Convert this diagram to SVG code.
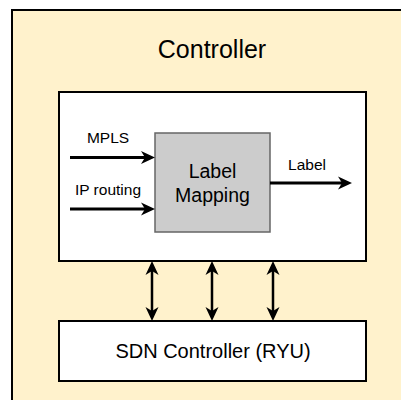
<svg xmlns="http://www.w3.org/2000/svg" width="401" height="400" viewBox="0 0 401 400">
  <defs>
    <!-- arrowhead pointing along +x with its tip at the origin -->
    <path id="arrowhead" d="M0,0 L-14,-6.5 L-10,0 L-14,6.5 Z" fill="#000"/>
    <style>
      text { font-family: "Liberation Sans", Arial, sans-serif; fill: #000; }
      .box { fill: #fff; stroke: #000; stroke-width: 2; }
      .flow { fill: none; stroke: #000; stroke-width: 3; }
      .link { fill: none; stroke: #000; stroke-width: 2.5; }
      .tag { font-size: 15.5px; }
    </style>
  </defs>
  <rect width="401" height="400" fill="#fff"/>

  <g id="controller">
    <rect x="12" y="10" width="400" height="400" fill="#fff2cc" stroke="#000" stroke-width="2"/>
    <text x="212" y="58" font-size="25" text-anchor="middle">Controller</text>
  </g>

  <g id="app-layer">
    <rect class="box" x="59" y="92" width="307" height="169"/>
  </g>

  <g id="label-mapping">
    <rect x="155" y="133" width="115" height="99" fill="#ccc" stroke="#666" stroke-width="1.5"/>
    <text x="212.5" y="178" font-size="19.5" text-anchor="middle">Label</text>
    <text x="212.5" y="202" font-size="19.5" text-anchor="middle">Mapping</text>
  </g>

  <g id="sdn-controller">
    <rect class="box" x="59" y="321" width="307" height="60"/>
    <text x="213" y="358" font-size="20" text-anchor="middle">SDN Controller (RYU)</text>
  </g>

  <g id="connectors">
    <!-- inputs into the mapping block and its output -->
    <path class="flow" d="M70,157.5 H145"/>
    <use href="#arrowhead" transform="translate(155,157.5)"/>
    <path class="flow" d="M70,209 H145"/>
    <use href="#arrowhead" transform="translate(155,209)"/>
    <path class="flow" d="M270,183 H342"/>
    <use href="#arrowhead" transform="translate(352,183)"/>

    <!-- two-way links to the SDN controller -->
    <path class="link" d="M152,271 V311"/>
    <use href="#arrowhead" transform="translate(152,261) rotate(-90)"/>
    <use href="#arrowhead" transform="translate(152,321) rotate(90)"/>
    <path class="link" d="M212,271 V311"/>
    <use href="#arrowhead" transform="translate(212,261) rotate(-90)"/>
    <use href="#arrowhead" transform="translate(212,321) rotate(90)"/>
    <path class="link" d="M273,271 V311"/>
    <use href="#arrowhead" transform="translate(273,261) rotate(-90)"/>
    <use href="#arrowhead" transform="translate(273,321) rotate(90)"/>

    <text class="tag" x="108" y="143" text-anchor="middle">MPLS</text>
    <text class="tag" x="108" y="195" text-anchor="middle">IP routing</text>
    <text class="tag" x="307" y="170" text-anchor="middle">Label</text>
  </g>
</svg>
